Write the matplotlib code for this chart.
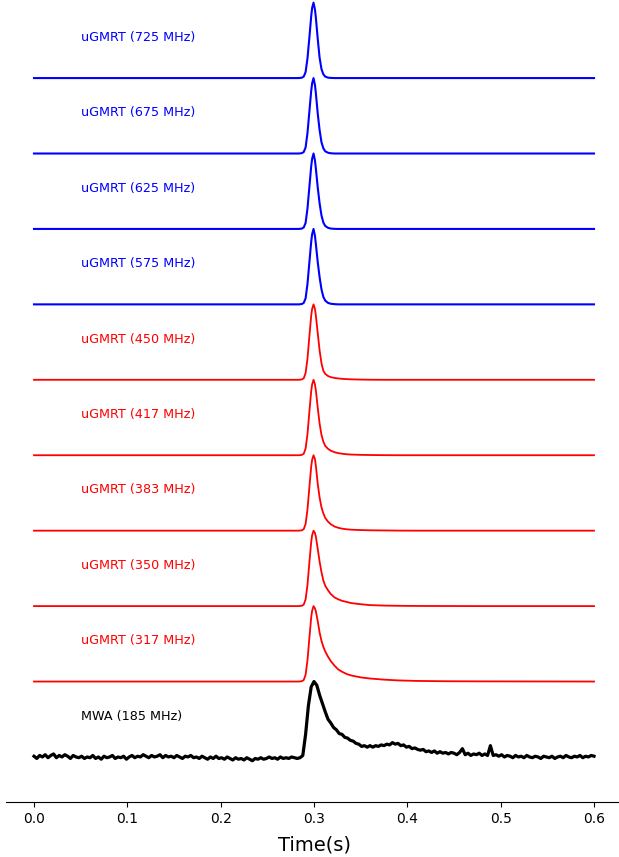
import matplotlib
matplotlib.use("Agg")
import matplotlib.pyplot as plt
import numpy as np

# ---- data ----
labels = ["MWA (185 MHz)", "uGMRT (317 MHz)", "uGMRT (350 MHz)", "uGMRT (383 MHz)",
          "uGMRT (417 MHz)", "uGMRT (450 MHz)", "uGMRT (575 MHz)", "uGMRT (625 MHz)",
          "uGMRT (675 MHz)", "uGMRT (725 MHz)"]
colors = ["black", "red", "red", "red", "red", "red", "blue", "blue", "blue", "blue"]

# time samples for the uGMRT profiles (s)
t_ugmrt = [0.000, 0.280, 0.284, 0.287, 0.289, 0.291, 0.293, 0.295, 0.297, 0.298,
           0.2995, 0.301, 0.302, 0.304, 0.306, 0.308, 0.310, 0.312, 0.315, 0.318,
           0.322, 0.326, 0.330, 0.335, 0.340, 0.350, 0.360, 0.375, 0.390, 0.410,
           0.440, 0.480, 0.600]

p317 = [0, 0, 0, 0.005, 0.02, 0.09, 0.28, 0.57, 0.85, 0.94,
        1.00, 0.97, 0.93, 0.80, 0.65, 0.54, 0.46, 0.40, 0.33, 0.27,
        0.21, 0.16, 0.13, 0.10, 0.08, 0.055, 0.04, 0.025, 0.015, 0.008,
        0.004, 0.002, 0.0]
p350 = [0, 0, 0, 0.005, 0.02, 0.09, 0.28, 0.57, 0.85, 0.94,
        1.00, 0.97, 0.92, 0.76, 0.59, 0.45, 0.34, 0.27, 0.21, 0.16,
        0.115, 0.09, 0.07, 0.055, 0.04, 0.025, 0.013, 0.007, 0.004, 0.002,
        0.001, 0.0, 0.0]
p383 = [0, 0, 0, 0.005, 0.02, 0.09, 0.28, 0.57, 0.85, 0.94,
        1.00, 0.95, 0.86, 0.62, 0.44, 0.31, 0.23, 0.17, 0.12, 0.085,
        0.055, 0.038, 0.027, 0.018, 0.013, 0.008, 0.005, 0.003, 0.001, 0.0,
        0.0, 0.0, 0.0]
p417 = [0, 0, 0, 0.005, 0.02, 0.09, 0.28, 0.57, 0.85, 0.94,
        1.00, 0.94, 0.86, 0.63, 0.42, 0.27, 0.18, 0.125, 0.085, 0.06,
        0.04, 0.028, 0.02, 0.013, 0.009, 0.005, 0.003, 0.001, 0.0, 0.0,
        0.0, 0.0, 0.0]
p450 = [0, 0, 0, 0.005, 0.02, 0.09, 0.28, 0.57, 0.85, 0.94,
        1.00, 0.94, 0.85, 0.62, 0.39, 0.22, 0.12, 0.08, 0.05, 0.035,
        0.025, 0.018, 0.013, 0.009, 0.006, 0.003, 0.001, 0.0, 0.0, 0.0,
        0.0, 0.0, 0.0]
p575 = [0, 0, 0, 0.005, 0.02, 0.08, 0.27, 0.55, 0.83, 0.93,
        1.00, 0.91, 0.80, 0.56, 0.36, 0.20, 0.10, 0.05, 0.02, 0.008,
        0.003, 0.0, 0, 0, 0, 0, 0, 0, 0, 0,
        0, 0, 0]
p625 = [0, 0, 0, 0.005, 0.02, 0.08, 0.27, 0.55, 0.83, 0.93,
        1.00, 0.91, 0.80, 0.55, 0.34, 0.18, 0.085, 0.04, 0.015, 0.005,
        0.001, 0.0, 0, 0, 0, 0, 0, 0, 0, 0,
        0, 0, 0]
p675 = [0, 0, 0, 0.005, 0.02, 0.08, 0.27, 0.55, 0.83, 0.93,
        1.00, 0.91, 0.80, 0.53, 0.31, 0.15, 0.07, 0.03, 0.01, 0.003,
        0.0, 0.0, 0, 0, 0, 0, 0, 0, 0, 0,
        0, 0, 0]
p725 = [0, 0, 0, 0.005, 0.02, 0.08, 0.26, 0.53, 0.82, 0.93,
        1.00, 0.91, 0.80, 0.52, 0.27, 0.12, 0.05, 0.02, 0.006, 0.002,
        0.0, 0.0, 0, 0, 0, 0, 0, 0, 0, 0,
        0, 0, 0]

# MWA profile, sampled every 3 ms from 0 to 0.6 s
mwa_dt = 0.003
mwa = [0.01, -0.02, 0.02, 0.00, 0.03, -0.01, 0.02, 0.04, -0.01, 0.02,
       0.00, 0.03, 0.01, -0.02, 0.02, 0.00, -0.01, 0.01, -0.02, 0.00,
       -0.01, 0.02, -0.02, 0.00, -0.03, 0.01, -0.01, 0.00, 0.02, -0.02,
       0.00, -0.01, 0.01, -0.03, 0.00, 0.02, -0.01, 0.01, 0.00, 0.03,
       0.01, -0.01, 0.02, 0.00, 0.01, 0.03, -0.01, 0.02, 0.00, 0.01,
       -0.01, 0.02, 0.00, -0.02, 0.01, 0.00, 0.02, -0.01, 0.00, -0.02,
       0.01, -0.01, -0.03, 0.00, -0.02, 0.01, -0.02, -0.01, -0.03, 0.00,
       -0.02, -0.04, -0.01, -0.03, -0.02, -0.04, -0.01, -0.03, -0.05, -0.02,
       -0.03, -0.01, -0.03, -0.02, 0.00, -0.02, -0.01, -0.03, 0.00, -0.02,
       -0.01, -0.02, 0.00, -0.01, -0.02, -0.01, 0.02, 0.30, 0.68, 0.93,
       1.00, 0.95, 0.82, 0.71, 0.60, 0.50, 0.45, 0.39, 0.36, 0.31,
       0.30, 0.26, 0.25, 0.22, 0.21, 0.18, 0.17, 0.14, 0.15, 0.13,
       0.15, 0.13, 0.15, 0.14, 0.16, 0.15, 0.17, 0.16, 0.19, 0.17,
       0.18, 0.15, 0.16, 0.13, 0.14, 0.11, 0.12, 0.10, 0.09, 0.10,
       0.07, 0.08, 0.06, 0.08, 0.05, 0.07, 0.05, 0.06, 0.04, 0.06,
       0.05, 0.03, 0.06, 0.11, 0.03, 0.05, 0.02, 0.04, 0.03, 0.05,
       0.02, 0.04, 0.02, 0.15, 0.02, 0.03, 0.01, 0.03, 0.00, 0.02,
       0.01, -0.01, 0.02, 0.00, 0.01, -0.01, 0.02, 0.00, -0.01, 0.01,
       0.00, -0.02, 0.01, 0.00, -0.01, 0.01, -0.02, 0.00, 0.01, -0.01,
       0.02, 0.00, -0.01, 0.01, 0.00, 0.02, -0.01, 0.01, 0.00, 0.02,
       0.01]

xticks = [0.0, 0.1, 0.2, 0.3, 0.4, 0.5, 0.6]

# ---- figure ----
fig = plt.figure(figsize=(6.19, 8.57), dpi=100)
ax = fig.add_axes([6 / 619, 55 / 857, 616 / 619, 802 / 857])

t_mwa = np.arange(len(mwa)) * mwa_dt
profiles = [mwa, p317, p350, p383, p417, p450, p575, p625, p675, p725]
for i, (prof, col, lab) in enumerate(zip(profiles, colors, labels)):
    if i == 0:
        ax.plot(t_mwa, np.array(prof) + i, color=col, lw=2.3)
    elif col == "blue":
        ax.plot(t_ugmrt, np.array(prof) + i, color=col, lw=1.5)
    else:
        ax.plot(t_ugmrt, np.array(prof) + i, color=col, lw=1.3)
    ax.text(0.05, i + 0.54, lab, color=col, fontsize=9.2, ha="left", va="center")

ax.set_xlim(-0.03, 0.63)
ax.set_ylim(-0.597, 10.035)
ax.set_xticks(xticks)
ax.set_xticklabels([f"{v:.1f}" for v in xticks])
ax.set_yticks([])
for s in ["left", "right", "top"]:
    ax.spines[s].set_visible(False)
ax.set_xlabel("Time(s)", fontsize=14, labelpad=7)

fig.savefig("out.png", dpi=100)
